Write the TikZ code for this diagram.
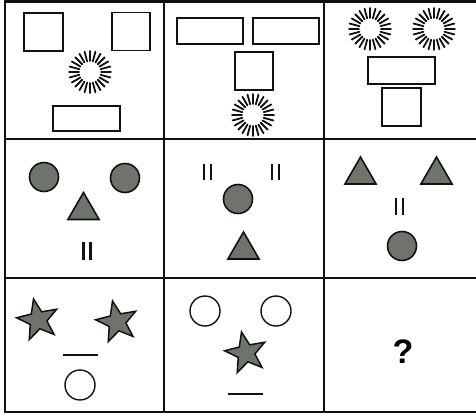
\documentclass[tikz,border=0pt]{standalone}
\usepackage{fontspec}
\setmainfont{Liberation Sans}
\usetikzlibrary{shapes.geometric}
\definecolor{ShapeGray}{HTML}{6E746C}
\definecolor{InkBlack}{HTML}{111111}

\begin{document}
\begin{tikzpicture}[x=1pt, y=-1pt, every node/.style={inner sep=0pt, outer sep=0pt},
    grid/.style={draw=InkBlack, line width=2.4pt},
    box/.style={draw=InkBlack, line width=1.6pt, rectangle},
    ray/.style={draw=InkBlack, line width=1.8pt, line cap=round},
    dot/.style={draw=InkBlack, fill=ShapeGray, line width=1.6pt, circle, minimum size=29pt},
    ring/.style={draw=InkBlack, line width=1.4pt, circle, minimum size=30pt},
    tri/.style={draw=InkBlack, fill=ShapeGray, line width=1.6pt, regular polygon, regular polygon sides=3, minimum size=36pt},
    starry/.style={draw=InkBlack, fill=ShapeGray, line width=1.5pt, star, star points=5, star point ratio=2.4, minimum size=43pt, rotate=12},
    bar/.style={draw=InkBlack, line width=2.3pt}]
    \useasboundingbox (0,0) rectangle (476,415);

    % grid
    \draw[grid] (5,1.5) rectangle (480,412);
    \draw[grid] (164,1.5) -- (164,412);
    \draw[grid] (324,1.5) -- (324,412);
    \draw[grid] (5,139) -- (480,139);
    \draw[grid] (5,278) -- (480,278);

    % row 1
    \node[box, minimum width=39pt, minimum height=38pt] (sqA) at (43.5,32) {};
    \node[box, minimum width=38pt, minimum height=38pt] (sqB) at (131,31.5) {};
    \node[box, minimum width=67pt, minimum height=25pt] (rcA) at (86.5,118.5) {};
    \node[box, minimum width=66pt, minimum height=26pt] (rcB) at (210,31) {};
    \node[box, minimum width=66pt, minimum height=26pt] (rcC) at (286,31) {};
    \node[box, minimum width=38pt, minimum height=38pt] (sqC) at (254,71) {};
    \node[box, minimum width=67pt, minimum height=27pt] (rcD) at (401.5,70.5) {};
    \node[box, minimum width=39pt, minimum height=38pt] (sqD) at (401.5,107) {};
    \coordinate (sunA) at (90,72);
    \coordinate (sunB) at (253,115);
    \coordinate (sunC) at (370,29);
    \coordinate (sunD) at (434,29);
    \foreach \s in {sunA, sunB, sunC, sunD}
        \foreach \a in {0,15,...,345}
            \draw[ray] ([shift={(\a:11)}]\s) -- ([shift={(\a:21)}]\s);

    % row 2
    \node[dot] (dotA) at (44,177) {};
    \node[dot] (dotB) at (125,178) {};
    \node[tri] (triA) at (83.5,210.5) {};
    \node[dot] (dotC) at (238,199) {};
    \node[tri] (triB) at (243.5,250) {};
    \node[tri] (triC) at (360.5,175) {};
    \node[tri] (triD) at (436.5,175) {};
    \node[dot] (dotD) at (402,246) {};
    \foreach \bx/\by/\bh in {87/251/9, 207.5/172/8, 275.5/172/8, 399.5/206.5/8.5}{
        \draw[bar] (\bx-3.5,\by-\bh) -- (\bx-3.5,\by+\bh);
        \draw[bar] (\bx+3.5,\by-\bh) -- (\bx+3.5,\by+\bh);
    }

    % row 3
    \node[starry] (starA) at (38,320) {};
    \node[starry] (starB) at (117,322) {};
    \node[ring] (ringA) at (80,385) {};
    \node[ring] (ringB) at (205,311) {};
    \node[ring] (ringC) at (276,311) {};
    \node[starry] (starC) at (246,353) {};
    \draw[bar] (63,355) -- (98,355);
    \draw[bar] (228,394) -- (263,394);
    \node[font=\bfseries\fontsize{34}{36}\selectfont] (ask) at (403,352) {?};
\end{tikzpicture}
\end{document}
